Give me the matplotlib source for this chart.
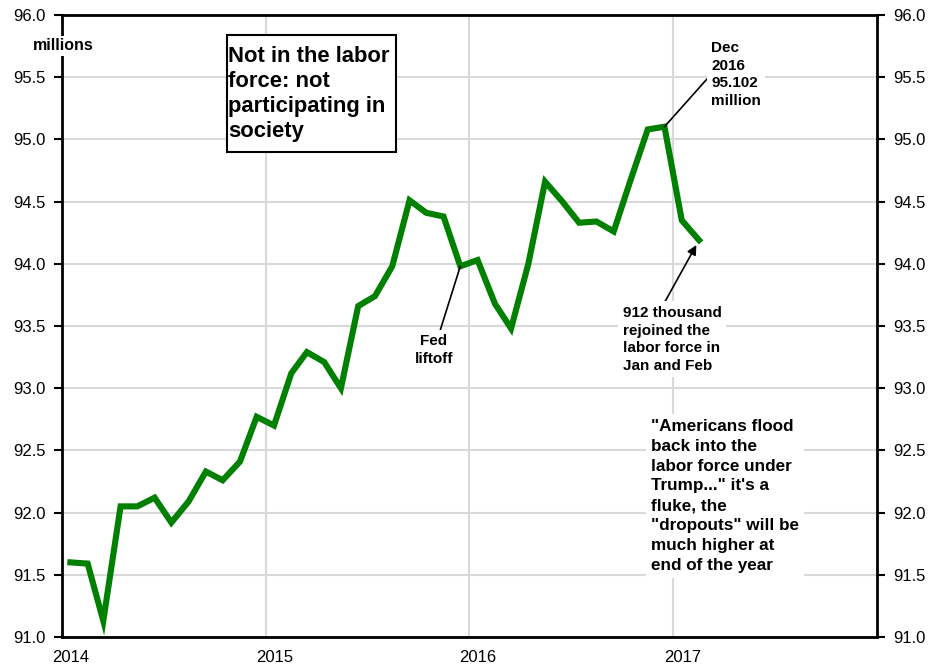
import matplotlib
matplotlib.use("Agg")
import matplotlib.pyplot as plt
import matplotlib.patches as mpatches
import pandas as pd

plt.rcParams['font.family'] = ['Liberation Sans', 'DejaVu Sans']

# Monthly data Jan 2014 .. Feb 2017 (millions, not in labor force)
start_month = "2014-01-01"
values = [91.60, 91.59, 91.13, 92.05, 92.05, 92.12, 91.92, 92.09, 92.33, 92.26, 92.41, 92.77,
          92.70, 93.12, 93.29, 93.21, 93.00, 93.66, 93.74, 93.98, 94.51, 94.41, 94.38, 93.98,
          94.03, 93.68, 93.48, 94.00, 94.66, 94.50, 94.33, 94.34, 94.26, 94.67, 95.08, 95.102,
          94.35, 94.19]
year_ticks = ["2014", "2015", "2016", "2017", "2018"]
y_ticks = [91.0, 91.5, 92.0, 92.5, 93.0, 93.5, 94.0, 94.5, 95.0, 95.5, 96.0]

dates = pd.date_range(start_month, periods=len(values), freq="MS") + pd.Timedelta(days=15)

fig = plt.figure(figsize=(9.43, 6.64), dpi=100)
ax = fig.add_axes([62/943, 1-637/664, (877-62)/943, (637-15)/664])

ax.plot(dates, values, color="#008000", lw=4.4, zorder=3, solid_joinstyle="miter")

ax.set_xlim(pd.Timestamp(year_ticks[0] + "-01-01"), pd.Timestamp(year_ticks[-1] + "-01-01"))
ax.set_ylim(y_ticks[0], y_ticks[-1])

# major ticks: year gridlines (no labels); minor ticks: labels slightly right of gridline
major = [pd.Timestamp(y + "-01-01") for y in year_ticks[:-1]]
minor = [pd.Timestamp(y + "-01-17") for y in year_ticks[:-1]]
ax.set_xticks(major)
ax.set_xticklabels([])
ax.set_xticks(minor, minor=True)
ax.set_xticklabels(year_ticks[:-1], minor=True)
ax.tick_params(axis="x", which="both", length=0, pad=9, labelsize=12)

ax.set_yticks(y_ticks)
ax.set_yticklabels([f"{v:.1f}" for v in y_ticks])
ax.tick_params(axis="y", direction="out", length=6, width=1.5, labelsize=12,
               left=True, right=True, labelleft=True, labelright=True, pad=6)

ax.grid(True, which="major", color="#d9d9d9", lw=1.5, zorder=0)
ax.set_axisbelow(True)
for s in ax.spines.values():
    s.set_linewidth(2)
    s.set_color("black")

def fx(px):
    return (px - 62) / 815

def fy(py):
    return (637 - py) / 622

ax.text(fx(33), fy(46), "millions", transform=ax.transAxes, fontsize=11.5,
        fontweight="bold", ha="left", va="center", clip_on=False, zorder=6,
        bbox=dict(boxstyle="square,pad=0.15", fc="white", ec="none"))

rect = mpatches.Rectangle((fx(226.7), fy(151.7)), (396 - 226.7) / 815, (151.7 - 35) / 622,
                          transform=ax.transAxes, fc="white", ec="black", lw=1.5, zorder=5)
ax.add_patch(rect)
ax.text(fx(228.5), fy(46), "Not in the labor\nforce: not\nparticipating in\nsociety",
        transform=ax.transAxes, fontsize=15.8, fontweight="bold", ha="left", va="top",
        linespacing=1.24, zorder=6)

ax.annotate("Fed\nliftoff", xy=(dates[23], values[23]), xycoords="data",
            xytext=(fx(434), fy(350)), textcoords="axes fraction",
            fontsize=11, fontweight="bold", ha="center", va="center", linespacing=1.28,
            bbox=dict(boxstyle="square,pad=0.3", fc="white", ec="none"),
            arrowprops=dict(arrowstyle="-", color="black", lw=1.2, shrinkA=0, shrinkB=0),
            zorder=5)

ax.annotate("Dec\n2016\n95.102\nmillion", xy=(dates[35], values[35]), xycoords="data",
            xytext=(fx(711), fy(74.5)), textcoords="axes fraction",
            fontsize=11, fontweight="bold", ha="left", va="center", linespacing=1.36,
            bbox=dict(boxstyle="square,pad=0.25", fc="white", ec="none"),
            arrowprops=dict(arrowstyle="-", color="black", lw=1.2, shrinkA=0, shrinkB=0,
                            relpos=(0, 0.5)),
            zorder=5)

ax.annotate("912 thousand\nrejoined the\nlabor force in\nJan and Feb", xy=(dates[37], values[37]),
            xycoords="data", xytext=(fx(623), fy(306)), textcoords="axes fraction",
            fontsize=11, fontweight="bold", ha="left", va="top", linespacing=1.33,
            bbox=dict(boxstyle="square,pad=0.3", fc="white", ec="none"),
            arrowprops=dict(arrowstyle="-|>", color="black", lw=1.2, shrinkA=0, shrinkB=4,
                            mutation_scale=14, relpos=(0.4, 1.0)),
            zorder=5)

ax.text(fx(651), fy(419), "\"Americans flood\nback into the\nlabor force under\nTrump...\" it's a\n"
        "fluke, the\n\"dropouts\" will be\nmuch higher at\nend of the year",
        transform=ax.transAxes, fontsize=12.3, fontweight="bold", ha="left", va="top",
        linespacing=1.40,
        bbox=dict(boxstyle="square,pad=0.3", fc="white", ec="none"), zorder=5)

fig.savefig("out.png", dpi=100)
